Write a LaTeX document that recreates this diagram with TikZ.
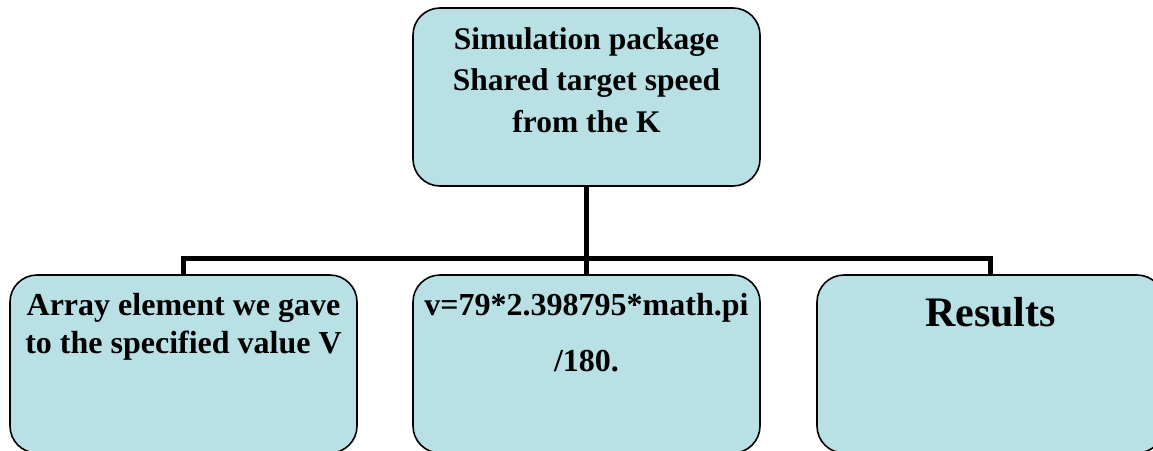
\documentclass[tikz,border=0pt]{standalone}
\usepackage{fontspec}
\setmainfont{Liberation Serif}
\definecolor{boxfill}{RGB}{185,224,228}
\begin{document}
\begin{tikzpicture}[x=1pt,y=-1pt,
  box/.style={draw=black,line width=1.6pt,fill=boxfill,rounded corners=27pt,
    minimum width=347pt,minimum height=178pt,inner sep=0pt},
  txt/.style={anchor=base,inner sep=0pt,font=\fontsize{32}{38}\selectfont\bfseries},
  txtbig/.style={anchor=base,inner sep=0pt,font=\fontsize{42}{48}\selectfont\bfseries},
  conn/.style={draw=black,line width=5pt,line join=miter}]
\clip (0,0) rectangle (1153,450);
\fill[white] (0,0) rectangle (1153,450);
\node[box] (top) at (586.5,97) {};
\node[box] (a) at (183.5,364) {};
\node[box] (b) at (586.5,364) {};
\node[box] (c) at (990.5,364) {};
\coordinate (bus) at (586.5,258);
\draw[conn] (top.south) -- (b.north);
\draw[conn] (a.north) -- (a.north |- bus) -- (c.north |- bus) -- (c.north);
\node[txt,font=\fontsize{31.5}{38}\selectfont\bfseries] (t1) at (586.5,49) {Simulation package};
\node[txt,font=\fontsize{31.5}{38}\selectfont\bfseries] (t2) at (586.5,90) {Shared target speed};
\node[txt,font=\fontsize{31.5}{38}\selectfont\bfseries] (t3) at (586.5,132) {from the K};
\node[txt] (a1) at (183.5,315) {Array element we gave};
\node[txt] (a2) at (183.5,353) {to the specified value V};
\node[txt] (b1) at (586.5,315) {v=79*2.398795*math.pi};
\node[txt] (b2) at (586.5,371) {/180.};
\node[txtbig] (c1) at (990.5,326) {Results};
\end{tikzpicture}
\end{document}
